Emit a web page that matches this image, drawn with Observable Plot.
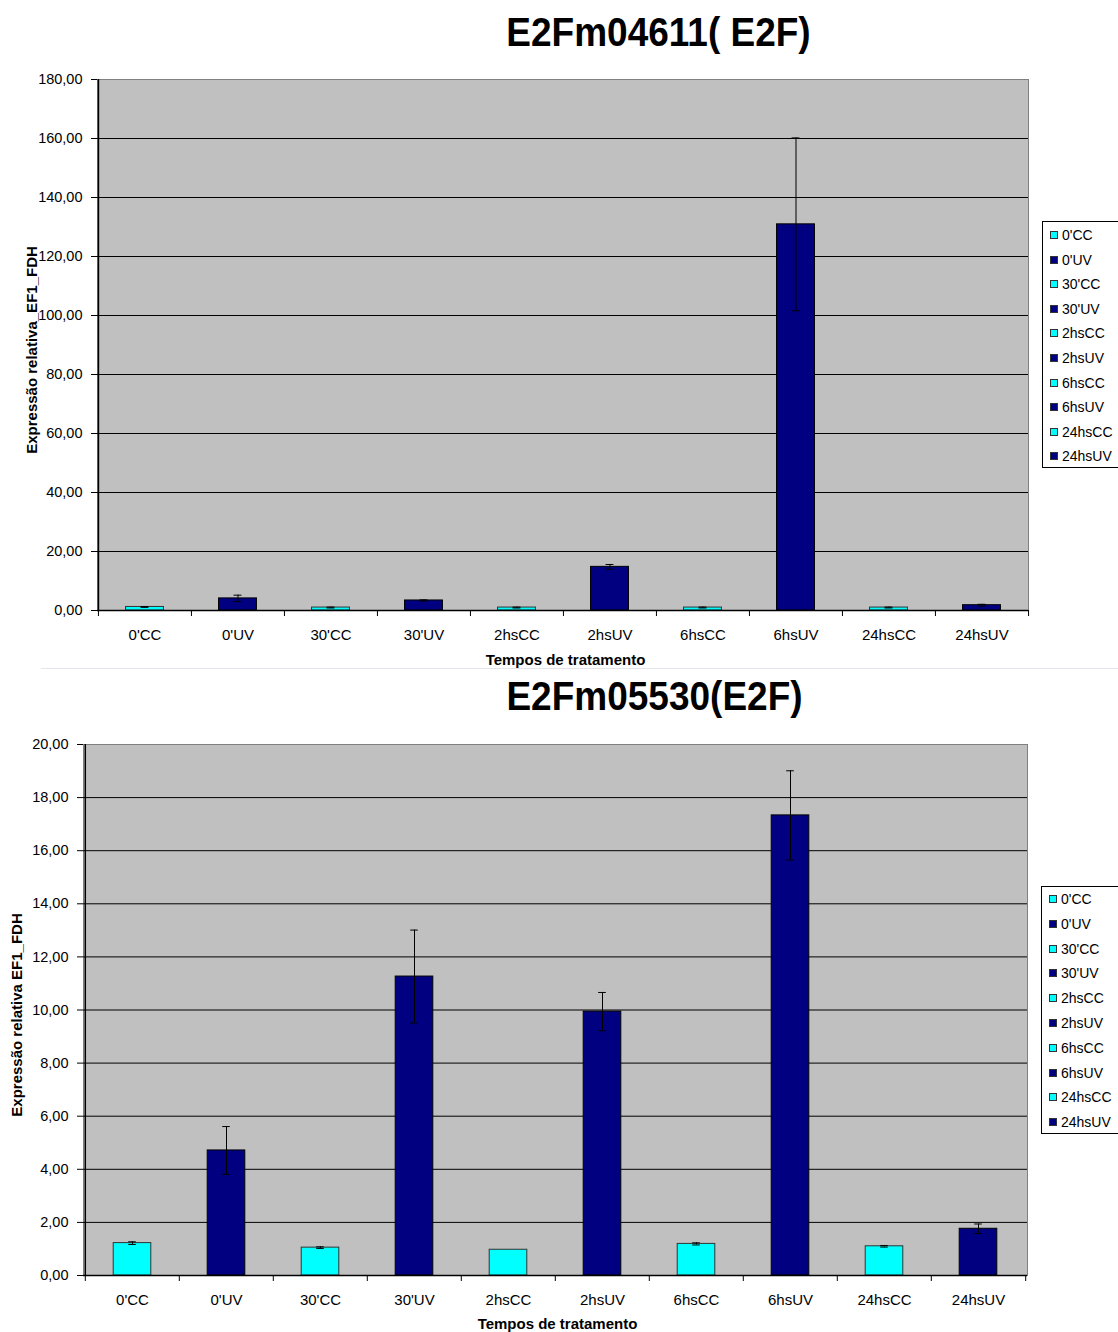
<!DOCTYPE html>
<html>
<head>
<meta charset="utf-8">
<script src="https://cdn.jsdelivr.net/npm/d3@7"></script>
<script src="https://cdn.jsdelivr.net/npm/@observablehq/plot@0.6"></script>
<style>
  body { margin: 0; background: #fff; font-family: Arial, "Liberation Sans", sans-serif; }
  #root { position: relative; width: 1118px; height: 1332px; overflow: hidden; background: #fff; }
  .title { position: absolute; font-weight: bold; font-size: 37px; white-space: nowrap; transform: translate(-50%, -50%) scaleY(1.12); color: #000; }
  .xtitle { position: absolute; font-weight: bold; font-size: 15px; white-space: nowrap; transform: translate(-50%, -50%); color: #000; }
  .ytitle { position: absolute; font-weight: bold; font-size: 15px; white-space: nowrap; transform: translate(-50%, -50%) rotate(-90deg); color: #000; }
  .legend { position: absolute; background: #fff; border: 1px solid #000; box-sizing: border-box; }
  .legitem { position: absolute; left: 0; font-size: 14px; white-space: nowrap; color: #000; transform: translateY(-50%); display: flex; align-items: center; }
  .sw { display: inline-block; width: 6px; height: 6px; border: 1px solid #333; margin: 0 4px 0 7px; }
  .sep { position: absolute; left: 41px; top: 668px; width: 1077px; height: 1px; background: #e4e4ec; }
</style>
</head>
<body>
<div id="root"></div>
<script>
// ---- data ----
const categories = ["0'CC", "0'UV", "30'CC", "30'UV", "2hsCC", "2hsUV", "6hsCC", "6hsUV", "24hsCC", "24hsUV"];

// Chart 1: E2Fm04611( E2F)
const titleA = "E2Fm04611( E2F)";
const valuesA = [1.2, 4.1, 1.0, 3.4, 1.0, 14.8, 1.0, 130.9, 1.0, 1.8];
const errorsA = [0.15, 1.1, 0.15, 0.2, 0.15, 0.8, 0.15, 29.3, 0.15, 0.3];
const ticksA = [0, 20, 40, 60, 80, 100, 120, 140, 160, 180];

// Chart 2: E2Fm05530(E2F)
const titleB = "E2Fm05530(E2F)";
const valuesB = [1.22, 4.71, 1.05, 11.26, 0.97, 9.94, 1.19, 17.33, 1.10, 1.76];
const errorsB = [0.05, 0.90, 0.03, 1.75, 0.0, 0.72, 0.04, 1.68, 0.03, 0.18];
const ticksB = [0, 2, 4, 6, 8, 10, 12, 14, 16, 18, 20];

const yTitle = "Expressão relativa_EF1_FDH";
const yTitleB = "Expressão relativa  EF1_FDH";
const xTitle = "Tempos de tratamento";

const colorCC = "#00ffff";
const colorUV = "#000080";
const groupOf = c => c.endsWith("CC") ? "CC" : "UV";

const root = document.getElementById("root");
const fmt = d => d3.format(".2f")(d).replace(".", ",");

function makeChart(cfg) {
  const {values, errors, ticks, top, ml, mr, mt, mb, frameH} = cfg;
  const W = 1118;
  const n = categories.length;
  const step = (W - ml - mr) / n;
  const data = categories.map((c, i) => ({cat: c, group: groupOf(c), v: values[i], e: errors[i]}));
  const yMax = ticks[ticks.length - 1];
  const barInset = (step - 38) / 2;
  const capInset = (step - 8) / 2;
  const plot = Plot.plot({
    width: W,
    height: mt + frameH + mb,
    marginLeft: ml, marginRight: mr, marginTop: mt, marginBottom: mb,
    style: {background: "transparent", fontFamily: "Arial, 'Liberation Sans', sans-serif", color: "#000", overflow: "visible"},
    x: {domain: categories, padding: 0},
    y: {domain: [0, yMax]},
    marks: [
      Plot.frame({fill: "#c0c0c0", stroke: "#808080"}),
      Plot.ruleY(ticks.filter(t => t > 0 && t < yMax), {stroke: "#000", strokeWidth: 1}),
      Plot.barY(data.filter(d => d.group === "CC"), {x: "cat", y: "v", fill: colorCC, stroke: "#333", strokeWidth: 1, insetLeft: barInset, insetRight: barInset}),
      Plot.barY(data.filter(d => d.group === "UV"), {x: "cat", y: "v", fill: colorUV, stroke: "#000", strokeWidth: 1, insetLeft: barInset, insetRight: barInset}),
      Plot.ruleX(data.filter(d => d.e > 0), {x: "cat", y1: d => d.v - d.e, y2: d => d.v + d.e, stroke: "#000", strokeWidth: 1}),
      Plot.tickY(data.filter(d => d.e > 0), {x: "cat", y: d => d.v + d.e, stroke: "#000", strokeWidth: 1, insetLeft: capInset, insetRight: capInset}),
      Plot.tickY(data.filter(d => d.e > 0), {x: "cat", y: d => Math.max(0, d.v - d.e), stroke: "#000", strokeWidth: 1, insetLeft: capInset, insetRight: capInset}),
      Plot.ruleY([0], {stroke: "#000", strokeWidth: 1.5}),
      // category boundary ticks (and left axis line)
      Plot.ruleX(categories, {x: d => d, dx: -step / 2, stroke: "#000", strokeWidth: 1, insetTop: frameH, insetBottom: -6}),
      Plot.ruleX(categories.slice(-1), {x: d => d, dx: step / 2, stroke: "#000", strokeWidth: 1, insetTop: frameH, insetBottom: -6}),
      Plot.ruleX(categories.slice(0, 1), {x: d => d, dx: -step / 2, stroke: "#000", strokeWidth: 1.5}),
      Plot.axisY({ticks: ticks, tickFormat: fmt, tickSize: 6, tickPadding: 9, fontSize: 14.5, label: null, stroke: "#000"}),
      Plot.axisX({tickSize: 0, tickPadding: 19, fontSize: 15, label: null})
    ]
  });
  plot.style.position = "absolute";
  plot.style.left = "0px";
  plot.style.top = top + "px";
  root.appendChild(plot);
}

function addText(cls, text, x, y) {
  const d = document.createElement("div");
  d.className = cls;
  d.textContent = text;
  d.style.left = x + "px";
  d.style.top = y + "px";
  root.appendChild(d);
}

function addLegend(left, top, height, firstY, gap) {
  const lg = document.createElement("div");
  lg.className = "legend";
  lg.style.left = left + "px";
  lg.style.top = top + "px";
  lg.style.width = (1125 - left) + "px";
  lg.style.height = height + "px";
  categories.forEach((c, i) => {
    const it = document.createElement("div");
    it.className = "legitem";
    it.style.top = (firstY - top + gap * i) + "px";
    const sw = document.createElement("span");
    sw.className = "sw";
    sw.style.background = groupOf(c) === "CC" ? colorCC : colorUV;
    it.appendChild(sw);
    it.appendChild(document.createTextNode(c));
    lg.appendChild(it);
  });
  root.appendChild(lg);
}

// Chart 1
addText("title", titleA, 658.5, 33);
makeChart({values: valuesA, errors: errorsA, ticks: ticksA, top: 60, ml: 97, mr: 90, mt: 19, mb: 62, frameH: 531});
addText("ytitle", yTitle, 31, 350);
addText("xtitle", xTitle, 565.5, 659);
addLegend(1042, 221, 247, 234, 24.6);

const sep = document.createElement("div");
sep.className = "sep";
root.appendChild(sep);

// Chart 2
addText("title", titleB, 654.5, 697);
makeChart({values: valuesB, errors: errorsB, ticks: ticksB, top: 725, ml: 83, mr: 91, mt: 19, mb: 62, frameH: 531});
addText("ytitle", yTitleB, 16, 1015);
addText("xtitle", xTitle, 557.5, 1323);
addLegend(1041, 886, 248, 898, 24.8);
</script>
</body>
</html>
